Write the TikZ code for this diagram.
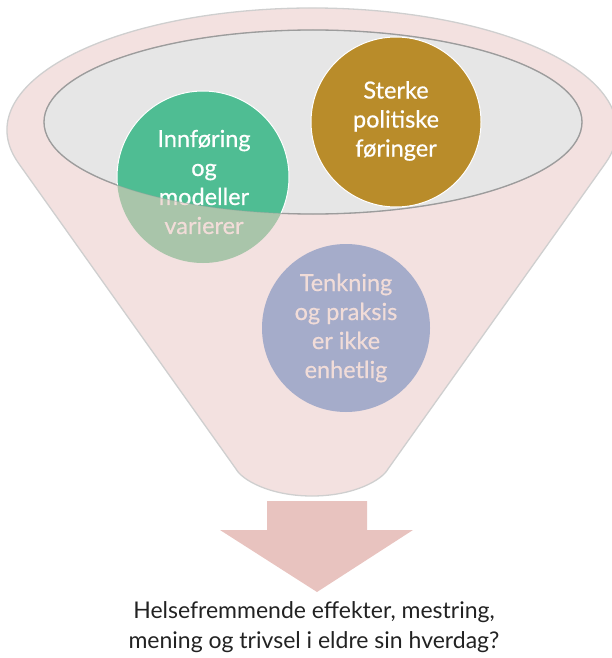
\documentclass[tikz,border=0pt]{standalone}
\usepackage{fontspec}
\setmainfont{Lato}
\newfontfamily\bubblefont{Lato}[FakeBold=0.6]
\definecolor{funnelc}{HTML}{F3E1E0}
\definecolor{funnelline}{HTML}{CFCFCF}
\definecolor{innerc}{HTML}{E6E6E6}
\definecolor{innerline}{HTML}{9C9C9C}
\definecolor{goldc}{HTML}{B98C2A}
\definecolor{greentop}{HTML}{4FBD93}
\definecolor{greenlow}{HTML}{A9C5AA}
\definecolor{bluec}{HTML}{A5ACCA}
\definecolor{pinktext}{HTML}{F1DCD8}
\definecolor{arrowc}{HTML}{E8C3BF}
\definecolor{textc}{HTML}{222222}
\begin{document}
\begin{tikzpicture}[x=1pt,y=-1pt,
  circtext/.style={align=center,font=\bubblefont\fontsize{23.5}{29}\selectfont},
  bubble/.style={circle,inner sep=0pt}]
\useasboundingbox (0,0) rectangle (612,658);
% funnel body
\path[fill=funnelc,draw=funnelline,line width=1.3pt]
  (18.3,162.9) arc[start angle=164.36,end angle=375.64,x radius=305,y radius=122]
  -- (388,469) .. controls (382,480) and (354,496) .. (312,496)
  .. controls (270,496) and (242,480) .. (236,469) -- cycle;
% inner ellipse
\path[fill=innerc,draw=innerline,line width=1.3pt] (313,122) ellipse[x radius=269,y radius=92];
% gold
\node[bubble,fill=goldc,draw=white,line width=1pt,minimum size=170pt] (gold) at (396,122) {};
\node[circtext,text=white] (goldtxt) at (396,121) {Sterke\\politiske\\føringer};
% blue
\node[bubble,fill=bluec,minimum size=168pt] (blue) at (346,328) {};
\node[circtext,text=pinktext] (bluetxt) at (346,328) {Tenkning\\og praksis\\er ikke\\enhetlig};
% green: lower (overlaid) part
\node[bubble,fill=greenlow,minimum size=172pt] (green) at (203,177) {};
\node[circtext,text=pinktext] (greentxt) at (204,182) {Innføring\\og\\modeller\\varierer};
% green: upper part inside the inner ellipse
\begin{scope}
  \clip (313,122) ellipse[x radius=269,y radius=92];
  \node[bubble,fill=greentop,draw=white,line width=1pt,minimum size=172pt] (greenup) at (203,177) {};
  \node[circtext,text=white] (greentxtup) at (204,182) {Innføring\\og\\modeller\\varierer};
\end{scope}
\draw[innerline,line width=1pt,opacity=0.35] (313,122) ellipse[x radius=269,y radius=92];
% arrow
\fill[arrowc] (267,501) -- (367,501) -- (367,530) -- (413,530) -- (317,592)
  -- (220,530) -- (267,530) -- cycle;
% bottom question
\node[align=center,text=textc,font=\fontsize{23}{30}\selectfont] (question) at (314,627)
  {Helsefremmende effekter, mestring,\\mening og trivsel i eldre sin hverdag?};
\end{tikzpicture}
\end{document}
